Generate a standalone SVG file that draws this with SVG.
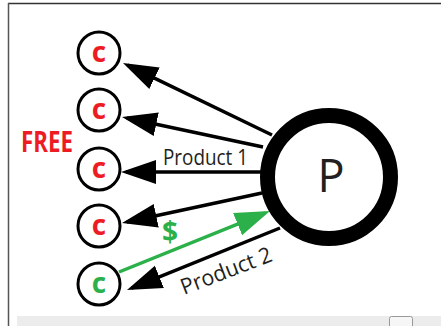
<svg xmlns="http://www.w3.org/2000/svg" width="441" height="326" viewBox="0 0 441 326">
<style>
.c{fill:#fff;stroke:#000;stroke-width:3}
.cl{font-family:"Open Sans","Liberation Sans",sans-serif;font-weight:bold;font-size:28px;text-anchor:middle}
.red{fill:#ed1c24}
.grn{fill:#2bb04a}
.lbl{font-family:"Open Sans","Liberation Sans",sans-serif;font-size:22px;fill:#231f20}
.k{stroke:#000;stroke-width:3.5;fill:none;marker-end:url(#ah)}
.g{stroke:#2bb04a;stroke-width:3.5;fill:none;marker-end:url(#ahg)}
</style>
<defs>
<marker id="ah" viewBox="0 0 36 26" refX="30" refY="13" markerWidth="36" markerHeight="26" markerUnits="userSpaceOnUse" orient="auto">
<path d="M0,1 L35,13 L0,25 z" fill="#000"/>
</marker>
<marker id="ahg" viewBox="0 0 36 26" refX="30" refY="13" markerWidth="36" markerHeight="26" markerUnits="userSpaceOnUse" orient="auto">
<path d="M0,1 L35,13 L0,25 z" fill="#2bb04a"/>
</marker>
</defs>
<rect width="441" height="326" fill="#fff"/>
<g id="frame">
<line x1="8" y1="3.5" x2="441" y2="3.5" stroke="#333" stroke-width="1.5"/>
<line x1="8.5" y1="3" x2="8.5" y2="326" stroke="#555" stroke-width="1.5"/>
<rect x="17" y="316" width="424" height="10" fill="#ececec"/>
<rect x="389.5" y="316.5" width="23" height="12" rx="2" fill="#f6f6f6" stroke="#999" stroke-width="1"/>
</g>
<g id="connectors">
<line class="k" x1="272" y1="135" x2="127.5" y2="65.2"/>
<line class="k" x1="263" y1="147" x2="126.9" y2="118"/>
<line class="k" x1="262" y1="172" x2="126" y2="172"/>
<line class="k" x1="262" y1="193" x2="126.9" y2="222"/>
<line class="g" x1="119" y1="272" x2="265.4" y2="212.9"/>
<line class="k" x1="280" y1="228" x2="131.6" y2="288.1"/>
<text class="lbl" x="163" y="165" textLength="85" lengthAdjust="spacingAndGlyphs">Product 1</text>
<text class="lbl" transform="translate(184,295) rotate(-21)" x="0" y="0" textLength="96" lengthAdjust="spacingAndGlyphs">Product 2</text>
<text class="cl grn" x="170" y="242" font-size="25">$</text>
</g>
<g id="P">
<circle cx="329" cy="177" r="61.5" fill="#fff" stroke="#000" stroke-width="15"/>
<text x="331" y="192" font-family="'Open Sans','Liberation Sans',sans-serif" font-size="45" text-anchor="middle" fill="#231f20">P</text>
</g>
<g id="c1"><circle class="c" cx="99" cy="53" r="21"/><text class="cl red" x="99" y="62">c</text></g>
<g id="c2"><circle class="c" cx="99" cy="110" r="21"/><text class="cl red" x="99" y="119">c</text></g>
<g id="c3"><circle class="c" cx="99" cy="169" r="21"/><text class="cl red" x="99" y="178">c</text></g>
<g id="c4"><circle class="c" cx="99" cy="226" r="21"/><text class="cl red" x="99" y="235">c</text></g>
<g id="c5"><circle class="c" cx="99" cy="284" r="21"/><text class="cl grn" x="99" y="293">c</text></g>
<g id="free"><text class="cl red" x="47" y="152" font-size="27" textLength="52" lengthAdjust="spacingAndGlyphs">FREE</text></g>
</svg>
